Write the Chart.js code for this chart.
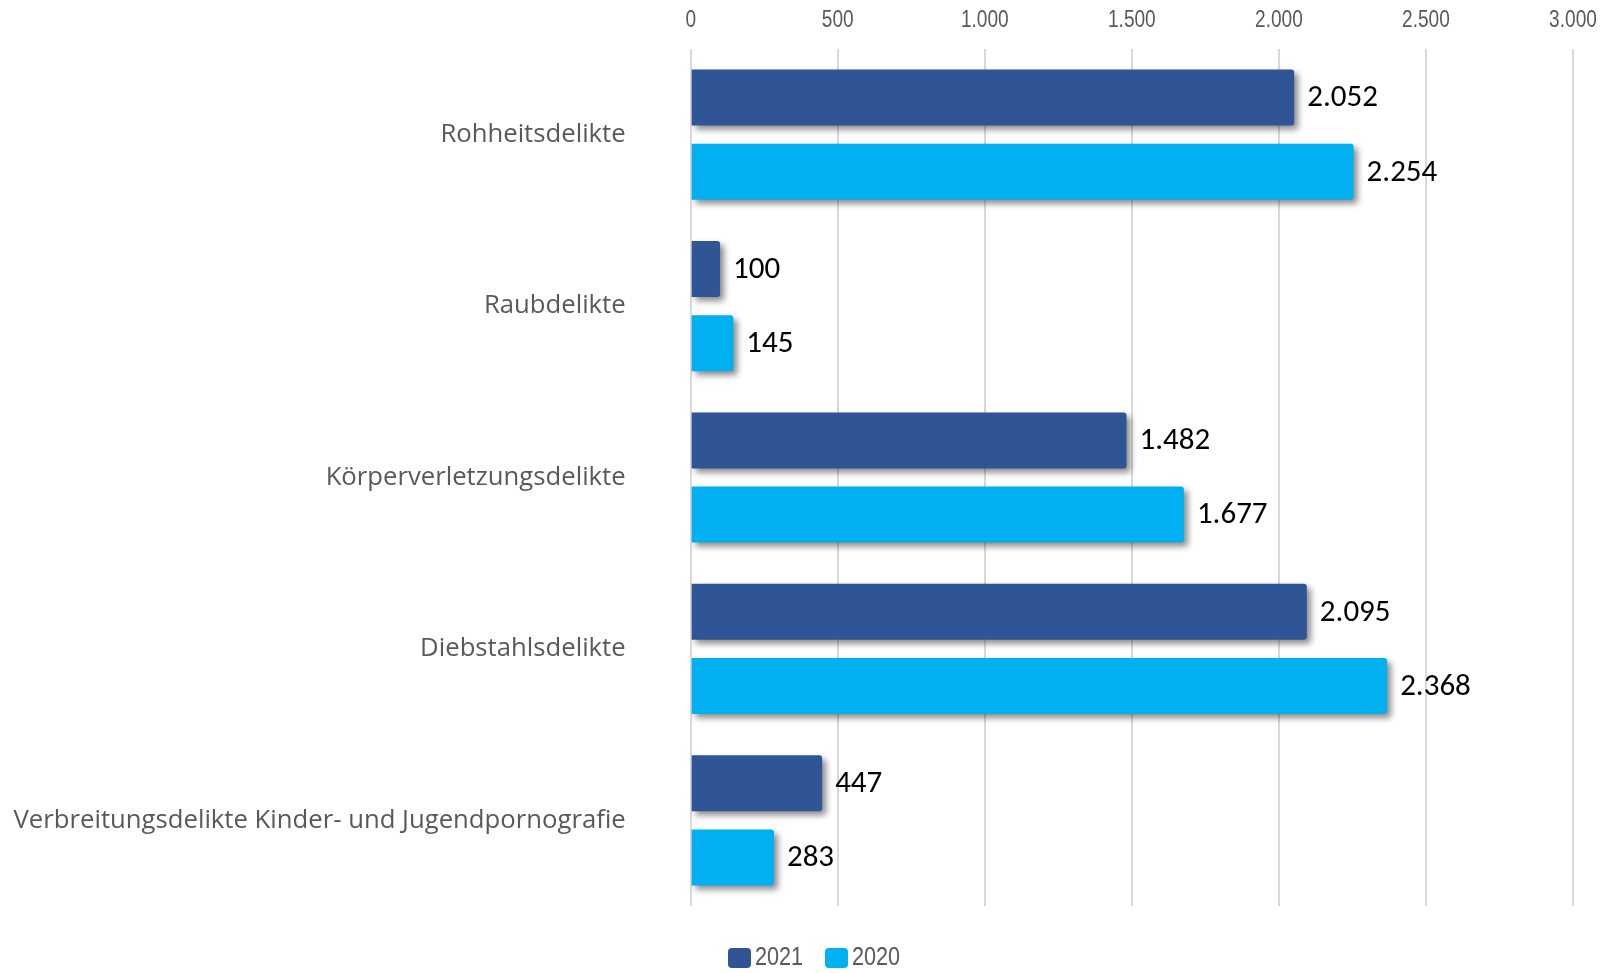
<!DOCTYPE html>
<html>
<head>
<meta charset="utf-8">
<script src="https://cdn.jsdelivr.net/npm/chart.js@4/dist/chart.umd.min.js"></script>
<style>
  html, body { margin: 0; padding: 0; background: #ffffff; }
  #wrap { width: 1604px; height: 973px; position: relative; }
</style>
</head>
<body>
<div id="wrap"><canvas id="c" width="1604" height="973"></canvas></div>
<script>
const categories = [
  "Rohheitsdelikte",
  "Raubdelikte",
  "Körperverletzungsdelikte",
  "Diebstahlsdelikte",
  "Verbreitungsdelikte Kinder- und Jugendpornografie"
];
const series2021 = [2052, 100, 1482, 2095, 447];
const series2020 = [2254, 145, 1677, 2368, 283];
const seriesNames = ["2021", "2020"];
const tickValues = [0, 500, 1000, 1500, 2000, 2500, 3000];

const colors = ["#2F5597", "#00B0F0"];
const gray = "#595959";
const narrowBase = "'Liberation Sans', Arial, sans-serif";
const NARROW = 0.83;

function fmt(v) {
  return String(Math.round(v)).replace(/\B(?=(\d{3})+(?!\d))/g, ".");
}

const shadowPlugin = {
  id: 'barShadow',
  beforeDatasetsDraw(chart) {
    const ctx = chart.ctx;
    ctx.save();
    ctx.shadowColor = 'rgba(0,0,0,0.45)';
    ctx.shadowBlur = 6;
    ctx.shadowOffsetX = 4;
    ctx.shadowOffsetY = 4;
  },
  afterDatasetsDraw(chart) {
    chart.ctx.restore();
  }
};

const labelPlugin = {
  id: 'valueLabels',
  afterDatasetsDraw(chart) {
    const ctx = chart.ctx;
    ctx.save();
    ctx.font = "31px Carlito, Lato, 'Noto Sans', sans-serif";
    ctx.fillStyle = "#000000";
    ctx.textAlign = "left";
    ctx.textBaseline = "middle";
    chart.data.datasets.forEach((ds, di) => {
      const meta = chart.getDatasetMeta(di);
      meta.data.forEach((bar, i) => {
        ctx.fillText(fmt(ds.data[i]), bar.x + 13, bar.y + 1);
      });
    });
    ctx.restore();
  }
};

// x-axis tick labels drawn in a condensed style, positioned by the x scale
const xTickPlugin = {
  id: 'xTicks',
  afterDraw(chart) {
    const ctx = chart.ctx;
    const xs = chart.scales.x;
    ctx.save();
    ctx.font = "23px " + narrowBase;
    ctx.fillStyle = gray;
    ctx.textAlign = "center";
    ctx.textBaseline = "middle";
    tickValues.forEach(v => {
      const px = xs.getPixelForValue(v);
      ctx.save();
      ctx.translate(px, 21);
      ctx.scale(NARROW, 1);
      ctx.fillText(fmt(v), 0, 0);
      ctx.restore();
    });
    ctx.restore();
  }
};

const legendPlugin = {
  id: 'customLegend',
  afterDraw(chart) {
    const ctx = chart.ctx;
    ctx.save();
    ctx.font = "26px " + narrowBase;
    ctx.textBaseline = "middle";
    ctx.textAlign = "left";
    let x = 728;
    const y = 958;
    chart.data.datasets.forEach((ds) => {
      ctx.fillStyle = ds.backgroundColor;
      ctx.beginPath();
      ctx.roundRect(x, y - 10, 23, 20, 4);
      ctx.fill();
      ctx.fillStyle = gray;
      ctx.save();
      ctx.translate(x + 27, y);
      ctx.scale(NARROW, 1);
      ctx.fillText(ds.label, 0, 0);
      ctx.restore();
      x += 27 + ctx.measureText(ds.label).width * NARROW + 22;
    });
    ctx.restore();
  }
};

new Chart(document.getElementById('c'), {
  type: 'bar',
  data: {
    labels: categories,
    datasets: [
      { label: seriesNames[0], data: series2021, backgroundColor: colors[0], borderRadius: 3, borderSkipped: 'start' },
      { label: seriesNames[1], data: series2020, backgroundColor: colors[1], borderRadius: 3, borderSkipped: 'start' }
    ]
  },
  options: {
    indexAxis: 'y',
    responsive: false,
    animation: false,
    devicePixelRatio: 1,
    categoryPercentage: 0.866,
    barPercentage: 0.755,
    layout: { autoPadding: false, padding: { left: 0, right: 31, top: 0, bottom: 67 } },
    plugins: {
      legend: { display: false },
      tooltip: { enabled: false }
    },
    scales: {
      x: {
        position: 'top',
        min: 0,
        max: 3000,
        afterBuildTicks(scale) { scale.ticks = tickValues.map(v => ({ value: v })); },
        afterFit(scale) {
          scale.height = 49;
          scale.paddingLeft = 0; scale.paddingRight = 0;
        },
        grid: { color: '#d9d9d9', lineWidth: 2, drawTicks: false },
        border: { display: false },
        ticks: { display: false }
      },
      y: {
        afterFit(scale) {
          scale.width = 690.7;
          scale.paddingTop = 0; scale.paddingBottom = 0;
        },
        grid: { display: false, drawTicks: false },
        border: { display: false },
        ticks: {
          padding: 65,
          color: gray,
          font: { family: "'Open Sans', 'Noto Sans', sans-serif", size: 25.7 }
        }
      }
    }
  },
  plugins: [shadowPlugin, labelPlugin, xTickPlugin, legendPlugin]
});
</script>
</body>
</html>
